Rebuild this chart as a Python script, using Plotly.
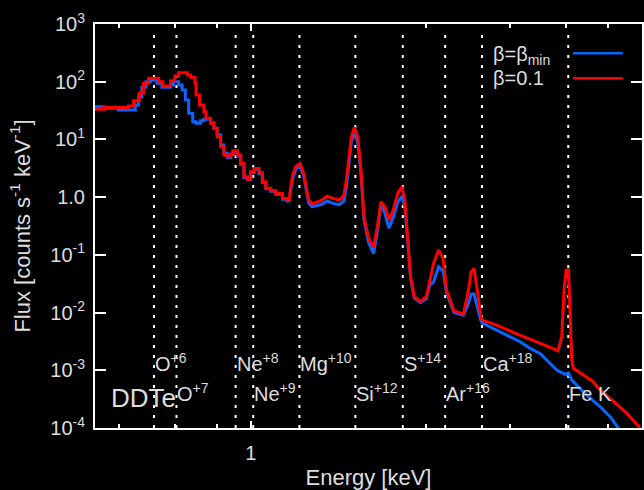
import numpy as np
import plotly.graph_objects as go

# ---------------- data ----------------
# beta = 0.1 (red): binned spectrum (bin edges in keV, flux per bin)
red_edges = [0.397, 0.421, 0.487, 0.502, 0.519, 0.532, 0.548, 0.582, 0.596, 0.624,
             0.640, 0.654, 0.688, 0.702, 0.720, 0.725, 0.740, 0.759, 0.769, 0.790,
             0.805, 0.821, 0.838, 0.854, 0.871, 0.889, 0.901, 0.924, 0.943, 0.961,
             0.980, 1.000, 1.020, 1.050, 1.071, 1.093, 1.125, 1.159, 1.205, 1.239,
             1.254, 1.271, 1.291, 1.316, 1.356, 1.377, 1.396, 1.416, 1.453, 1.497,
             1.542, 1.594, 1.652, 1.718, 1.744, 1.768, 1.794, 1.822, 1.858, 1.896,
             1.925, 1.971, 2.030, 2.091, 2.123, 2.182, 2.226, 2.285, 2.344, 2.408,
             2.457, 2.497, 2.537, 2.587, 2.649, 2.784, 2.839, 2.897, 2.970, 3.073,
             3.133, 3.196, 3.423, 3.572, 3.632, 3.687, 3.757, 3.830, 3.905]
red_flux = [33.2, 35.9, 37.9, 47, 64, 94, 114.5, 100, 84, 104,
            126, 143, 131, 119, 94, 59, 39.4, 30.2, 23.2, 19.0,
            15.6, 11.1, 7.48, 5.37, 5.01, 5.58, 6.37, 5.37, 3.85, 2.26,
            2.04, 2.75, 3.15, 2.65, 1.85, 1.42, 1.29, 1.16, 0.95, 0.89,
            1.33, 2.42, 3.37, 3.85, 2.58, 1.51, 0.89, 0.76, 0.83, 0.89,
            1.04, 0.95, 0.89, 1.09, 1.98, 4.40, 11.1, 16.2, 11.1, 3.37,
            0.457, 0.193, 0.138, 0.307, 0.83, 0.68, 0.40, 0.60, 1.16, 1.51,
            0.89, 0.206, 0.0417, 0.0188, 0.0154, 0.0188, 0.0342, 0.0713, 0.121, 0.0869,
            0.0245, 0.0107, 0.00941, 0.0245, 0.0509, 0.0583, 0.0245, 0.00906]
red_tail_E = [3.905, 4.249, 4.734, 5.264, 5.888, 6.10, 6.236, 6.321, 6.40, 6.49,
              6.55, 6.615, 6.678, 7.515, 7.667, 8.455, 9.153, 9.90]
red_tail_F = [0.00741, 0.00607, 0.00442, 0.00334, 0.00243, 0.00218, 0.0038, 0.0245, 0.0546, 0.0546,
              0.0085, 0.0015, 0.00108, 0.000632, 0.000518, 0.000284, 0.000179, 0.0000984]

# beta = beta_min (blue)
blue_edges = [0.397, 0.421, 0.459, 0.507, 0.517, 0.527, 0.540, 0.554, 0.576, 0.593,
              0.624, 0.635, 0.654, 0.668, 0.681, 0.694, 0.711, 0.725, 0.744, 0.759,
              0.790, 0.805, 0.821, 0.838, 0.854, 0.871, 0.889, 0.901, 0.924, 0.943,
              0.961, 0.980, 1.000, 1.020, 1.050, 1.071, 1.093, 1.125, 1.159, 1.205,
              1.239, 1.254, 1.271, 1.291, 1.316, 1.356, 1.377, 1.396, 1.416, 1.453,
              1.497, 1.542, 1.594, 1.652, 1.718, 1.744, 1.768, 1.794, 1.822, 1.858,
              1.896, 1.925, 1.971, 2.030, 2.091, 2.123, 2.182, 2.226, 2.285, 2.344,
              2.408, 2.457, 2.497, 2.537, 2.587, 2.649, 2.784, 2.839, 2.897, 2.970,
              3.073, 3.133, 3.196, 3.423, 3.572, 3.632, 3.687, 3.757, 3.830, 3.905]
blue_flux = [36.9, 34.6, 32.4, 39.4, 54.9, 80, 100, 107, 93.8, 80,
             87.7, 100, 87.7, 71.8, 48.2, 28.3, 20.3, 19.0, 21.1, 22.3,
             19.5, 15.6, 11.9, 8.0, 5.74, 4.8, 5.4, 6.1, 5.2, 3.7,
             2.2, 2.0, 2.65, 3.05, 2.55, 1.80, 1.40, 1.27, 1.12, 0.92,
             0.86, 1.2, 2.1, 3.0, 3.5, 2.3, 1.3, 0.80, 0.68, 0.72,
             0.75, 0.86, 0.78, 0.74, 0.85, 1.5, 3.5, 9.0, 13.1, 9.0,
             2.9, 0.40, 0.165, 0.106, 0.25, 0.75, 0.52, 0.29, 0.45, 0.82,
             1.02, 0.70, 0.19, 0.040, 0.018, 0.0148, 0.0175, 0.030, 0.034, 0.062,
             0.052, 0.022, 0.0100, 0.0090, 0.0145, 0.0209, 0.021, 0.0126, 0.0075]
blue_tail_E = [3.905, 4.336, 4.879, 5.176, 5.49, 6.053, 6.36, 6.483, 6.615, 7.228,
               7.82, 8.30, 8.71, 8.90]
blue_tail_F = [0.0066, 0.00465, 0.00312, 0.0024, 0.00196, 0.00101, 0.00085, 0.0009, 0.000676, 0.000372,
               0.000233, 0.000156, 0.0000984, 0.00008]

# bins below this energy are drawn as visible steps, above it as a polyline
step_limit = 1.25

# emission-line markers
line_energy = [0.566, 0.646, 0.915, 1.015, 1.332, 1.851, 2.447, 3.14, 3.90, 6.48]
line_label = ['O<sup>+6</sup>', 'O<sup>+7</sup>', 'Ne<sup>+8</sup>', 'Ne<sup>+9</sup>',
              'Mg<sup>+10</sup>', 'Si<sup>+12</sup>', 'S<sup>+14</sup>', 'Ar<sup>+16</sup>',
              'Ca<sup>+18</sup>', 'Fe K']
line_row = [1, 2, 1, 2, 1, 2, 1, 2, 1, 2]

y_tickvals = [1e-4, 1e-3, 1e-2, 1e-1, 1, 10, 100, 1000]
y_ticktext = ['10<sup>-4</sup>', '10<sup>-3</sup>', '10<sup>-2</sup>', '10<sup>-1</sup>',
              '1.0', '10<sup>1</sup>', '10<sup>2</sup>', '10<sup>3</sup>']
x_tickvals = [1, 10]
x_ticktext = ['1', '10']
x_minor_vals = [0.46, 0.64, 0.82, 2.8, 4.6, 6.4, 8.2]

series_names = ['β=β<sub>min</sub>', 'β=0.1']
series_colors = ['#0a64ff', '#ff0000']

FONT = 'Liberation Sans, Arial, Helvetica, sans-serif'
TXT = '#dedede'


def spectrum_path(edges, flux, tail_e, tail_f):
    assert len(edges) == len(flux) + 1
    xs, ys = [], []
    for i, f in enumerate(flux):
        lo, hi = edges[i], edges[i + 1]
        if lo < step_limit:
            xs += [lo, hi]
            ys += [f, f]
        else:
            xs.append(float(np.sqrt(lo * hi)))
            ys.append(f)
    return xs + list(tail_e), ys + list(tail_f)


fig = go.Figure()

# dashed vertical line markers
for e in line_energy:
    fig.add_trace(go.Scatter(x=[e, e], y=[1e-4, 790], mode='lines',
                             line=dict(color='white', width=2, dash='3px,7px'),
                             hoverinfo='skip', showlegend=False))

bx, by = spectrum_path(blue_edges, blue_flux, blue_tail_E, blue_tail_F)
rx, ry = spectrum_path(red_edges, red_flux, red_tail_E, red_tail_F)
fig.add_trace(go.Scatter(x=bx, y=by, mode='lines', name='β=β_min',
                         line=dict(color=series_colors[0], width=3), showlegend=False))
fig.add_trace(go.Scatter(x=rx, y=ry, mode='lines', name='β=0.1',
                         line=dict(color=series_colors[1], width=3), showlegend=False))

annotations = []
for e, lab, row in zip(line_energy, line_label, line_row):
    annotations.append(dict(x=np.log10(e), xref='x', y=0.127 if row == 1 else 0.053, yref='paper',
                            text=lab, showarrow=False, xanchor='left', yanchor='bottom',
                            xshift=-1, font=dict(size=20, color=TXT, family=FONT)))
annotations.append(dict(x=0.026, xref='paper', y=0.031, yref='paper', text='DDTe',
                        showarrow=False, xanchor='left', yanchor='bottom',
                        font=dict(size=26, color=TXT, family=FONT)))

# key (text on the left, line sample on the right, as in the reference)
key_y = [0.922, 0.866]
shapes = []
for name, col, yk in zip(series_names, series_colors, key_y):
    annotations.append(dict(x=0.7234, xref='paper', y=yk, yref='paper', text=name,
                            showarrow=False, xanchor='left', yanchor='middle',
                            font=dict(size=20, color=TXT, family=FONT)))
shapes.append(dict(type='line', xref='paper', yref='paper', x0=0.874, x1=0.965,
                   y0=0.9275, y1=0.9275, line=dict(color=series_colors[0], width=2.5)))
shapes.append(dict(type='line', xref='paper', yref='paper', x0=0.874, x1=0.965,
                   y0=0.8656, y1=0.8656, line=dict(color=series_colors[1], width=2.5)))

fig.update_layout(
    template='none', width=644, height=490,
    margin=dict(l=95, r=2, t=24, b=62, pad=0),
    paper_bgcolor='black', plot_bgcolor='black', showlegend=False,
    font=dict(family=FONT, size=20, color=TXT),
    annotations=annotations, shapes=shapes,
)
fig.update_xaxes(
    type='log', range=[np.log10(0.4), 1], automargin=False,
    showgrid=False, zeroline=False, showline=True, linecolor='white', linewidth=2,
    mirror='ticks', ticks='inside', ticklen=7, tickwidth=2, tickcolor='white',
    tickmode='array', tickvals=x_tickvals, ticktext=x_ticktext,
    tickfont=dict(size=20, color=TXT, family=FONT), ticklabelstandoff=6,
    minor=dict(tickmode='array', tickvals=x_minor_vals, ticks='inside', ticklen=4,
               tickwidth=2, tickcolor='white', showgrid=False),
    title=dict(text='Energy [keV]', font=dict(size=22, color=TXT, family=FONT), standoff=13),
)
fig.update_yaxes(
    type='log', range=[-4, 3], automargin=False,
    showgrid=False, zeroline=False, showline=True, linecolor='white', linewidth=2,
    mirror='ticks', ticks='inside', ticklen=11, tickwidth=2, tickcolor='white',
    tickmode='array', tickvals=y_tickvals, ticktext=y_ticktext,
    tickfont=dict(size=20, color=TXT, family=FONT), ticklabelstandoff=4,
    title=dict(text='Flux [counts s<sup>-1</sup> keV<sup>-1</sup>]',
               font=dict(size=22, color=TXT, family=FONT), standoff=14),
)

fig.write_html('out.html')
